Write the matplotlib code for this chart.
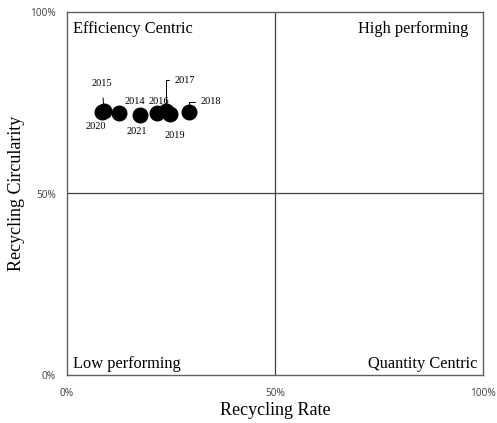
import matplotlib
matplotlib.use("Agg")
import matplotlib.pyplot as plt
from matplotlib.ticker import FuncFormatter

years = ["2014", "2015", "2016", "2017", "2018", "2019", "2020", "2021"]
recycling_rate = [12.5, 8.9, 21.6, 23.8, 29.4, 24.8, 8.4, 17.6]
recycling_circularity = [72.2, 72.8, 72.3, 72.6, 72.5, 71.9, 72.4, 71.6]
quadrant_labels = ["Efficiency Centric", "High performing", "Low performing", "Quantity Centric"]
ticks = [0, 50, 100]

# label offsets in pixels (layout only)
offsets = {"2014": (16, 11), "2015": (-2, 27), "2016": (2, 11), "2017": (19, 31),
           "2018": (22, 10), "2019": (5, -21), "2020": (-6, -14), "2021": (-3, -16)}
leader = {"2014": True, "2015": True, "2016": False, "2017": "angle", "2018": "angle",
          "2019": True, "2020": True, "2021": True}

fig = plt.figure(figsize=(4.97, 4.23), dpi=100)
ax = fig.add_axes([67/497, 48/423, 416/497, 363/423])
serif = "Liberation Serif"

ax.set_xlim(0, 100)
ax.set_ylim(0, 100)
ax.axvline(50, color="#404040", lw=0.9, zorder=1)
ax.axhline(50, color="#404040", lw=0.9, zorder=1)
for s in ax.spines.values():
    s.set_color("#606060")
    s.set_linewidth(1.0)

ax.scatter(recycling_rate, recycling_circularity, s=110, color="black", zorder=4)

for y, xr, yc in zip(years, recycling_rate, recycling_circularity):
    dx, dy = offsets[y]
    kw = {}
    if leader[y] is True:
        kw["arrowprops"] = dict(arrowstyle="-", color="black", lw=0.7, shrinkA=5, shrinkB=0)
    elif leader[y] == "angle":
        kw["arrowprops"] = dict(arrowstyle="-", color="black", lw=0.7, shrinkA=2, shrinkB=0,
                                connectionstyle="angle,angleA=180,angleB=90,rad=0")
    ax.annotate(y, (xr, yc), xytext=(dx, dy), textcoords="offset pixels",
                ha="center", va="center", fontsize=7.5, family=serif, zorder=3, **kw)

qfs = 11.8
ax.text(0.0144, 0.942, quadrant_labels[0], transform=ax.transAxes, ha="left", va="baseline",
        fontsize=qfs, family=serif)
ax.text(0.964, 0.942, quadrant_labels[1], transform=ax.transAxes, ha="right", va="baseline",
        fontsize=qfs, family=serif)
ax.text(0.0144, 0.0193, quadrant_labels[2], transform=ax.transAxes, ha="left", va="baseline",
        fontsize=qfs, family=serif)
ax.text(0.9856, 0.0193, quadrant_labels[3], transform=ax.transAxes, ha="right", va="baseline",
        fontsize=qfs, family=serif)

fmt = FuncFormatter(lambda v, p: f"{int(v)}%")
ax.set_xticks(ticks)
ax.set_yticks(ticks)
ax.xaxis.set_major_formatter(fmt)
ax.yaxis.set_major_formatter(fmt)
ax.tick_params(length=0, labelsize=7.3, labelcolor="#404040")
ax.tick_params(axis="x", pad=9)
ax.tick_params(axis="y", pad=8)
for lab in ax.get_xticklabels() + ax.get_yticklabels():
    lab.set_family("Open Sans")

ax.set_xlabel("Recycling Rate", family=serif, fontsize=13, va="center")
ax.set_ylabel("Recycling Circularity", family=serif, fontsize=13, va="center")
ax.xaxis.set_label_coords(0.5, (410 - 375) / -363)
ax.yaxis.set_label_coords((17 - 67) / 416, 0.5)

fig.savefig("out.png", dpi=100)
